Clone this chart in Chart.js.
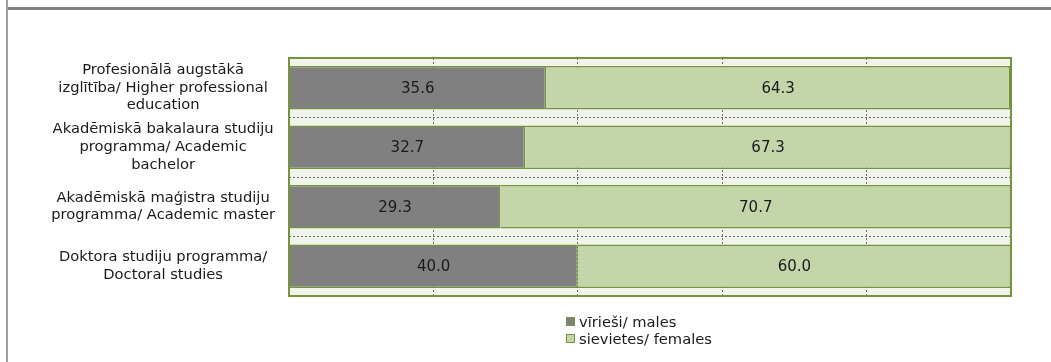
<!DOCTYPE html>
<html>
<head>
<meta charset="utf-8">
<script src="https://cdn.jsdelivr.net/npm/chart.js@4.4.0/dist/chart.umd.min.js"></script>
<style>
  html, body { margin: 0; padding: 0; background: #fff; }
  body { width: 1051px; height: 362px; position: relative; overflow: hidden; font-family: "DejaVu Sans", Verdana, sans-serif; }
  #wrap { position: absolute; left: 0; top: 0; width: 1051px; height: 362px; }
  .frame-left { position: absolute; left: 6px; top: 0; width: 2px; height: 362px; background: #a0a0a0; }
  .frame-top { position: absolute; left: 8px; top: 7px; width: 1043px; height: 3px; background: #808080; }
  #legend { position: absolute; left: 566px; top: 313px; font-size: 14.7px; color: #1a1a1a; line-height: 17px; }
  #legend .item { display: flex; align-items: center; white-space: nowrap; }
  #legend .box { width: 7px; height: 7px; margin-right: 4px; border: 1px solid #77933c; }
</style>
</head>
<body>
<div class="frame-left"></div>
<div class="frame-top"></div>
<div id="wrap"><canvas id="chart" width="1051" height="362"></canvas></div>
<div id="legend"></div>
<script>
// categories (multi-line labels as in the original)
const categories = [
  ["Profesionālā augstākā", "izglītība/ Higher professional", "education"],
  ["Akadēmiskā bakalaura studiju", "programma/ Academic", "bachelor"],
  ["Akadēmiskā maģistra studiju", "programma/ Academic master"],
  ["Doktora studiju programma/", "Doctoral studies"]
];
const seriesNames = ["vīrieši/ males", "sievietes/ females"];
const males = [35.6, 32.7, 29.3, 40.0];
const females = [64.3, 67.3, 70.7, 60.0];

const maleColor = "#808080";
const femaleColor = "#c4d6a9";
const edgeColor = "#77933c";
const font = "DejaVu Sans";

// light green plot background + frame
const plotBackground = {
  id: "plotBackground",
  beforeDraw(chart) {
    const { ctx, chartArea: a } = chart;
    ctx.save();
    ctx.fillStyle = "#f0f4ea";
    ctx.fillRect(a.left, a.top, a.right - a.left, a.bottom - a.top);
    ctx.restore();
  },
  afterDraw(chart) {
    const { ctx, chartArea: a } = chart;
    ctx.save();
    ctx.strokeStyle = edgeColor;
    ctx.lineWidth = 2;
    ctx.strokeRect(a.left, a.top, a.right - a.left, a.bottom - a.top);
    ctx.restore();
  }
};

// value labels in the middle of every segment
const valueLabels = {
  id: "valueLabels",
  afterDatasetsDraw(chart) {
    const { ctx } = chart;
    ctx.save();
    ctx.font = "15px '" + font + "'";
    ctx.fillStyle = "#1a1a1a";
    ctx.textAlign = "center";
    ctx.textBaseline = "middle";
    chart.data.datasets.forEach((ds, i) => {
      chart.getDatasetMeta(i).data.forEach((bar, j) => {
        const p = bar.getCenterPoint();
        ctx.fillText(ds.data[j].toFixed(1), p.x, p.y + 1);
      });
    });
    ctx.restore();
  }
};

const chart = new Chart(document.getElementById("chart"), {
  type: "bar",
  data: {
    labels: categories,
    datasets: [
      { label: seriesNames[0], data: males, backgroundColor: maleColor, borderColor: edgeColor, borderWidth: 1.5 },
      { label: seriesNames[1], data: females, backgroundColor: femaleColor, borderColor: edgeColor, borderWidth: 1.5 }
    ]
  },
  options: {
    indexAxis: "y",
    responsive: false,
    animation: false,
    barPercentage: 0.73,
    categoryPercentage: 1,
    layout: { padding: { top: 58, right: 40, bottom: 66, left: 0 } },
    plugins: {
      legend: { display: false },
      tooltip: { enabled: false }
    },
    scales: {
      x: {
        stacked: true,
        min: 0,
        max: 100,
        ticks: { display: false, stepSize: 20 },
        border: { display: false, dash: [2, 2] },
        grid: { color: "#6a6a6a", lineWidth: 1, drawTicks: false }
      },
      y: {
        stacked: true,
        afterFit(scale) { scale.width = 289; },
        ticks: {
          crossAlign: "center",
          padding: 14,
          color: "#1a1a1a",
          font: { family: font, size: 14.7, lineHeight: 1.2 }
        },
        border: { display: false, dash: [2, 2] },
        grid: { color: "#6a6a6a", lineWidth: 1, drawTicks: false }
      }
    }
  },
  plugins: [plotBackground, valueLabels]
});

// legend, one entry per row
const legend = document.getElementById("legend");
chart.data.datasets.forEach(ds => {
  const item = document.createElement("div");
  item.className = "item";
  const box = document.createElement("span");
  box.className = "box";
  box.style.background = ds.backgroundColor;
  const text = document.createElement("span");
  text.textContent = ds.label;
  item.appendChild(box);
  item.appendChild(text);
  legend.appendChild(item);
});
</script>
</body>
</html>
